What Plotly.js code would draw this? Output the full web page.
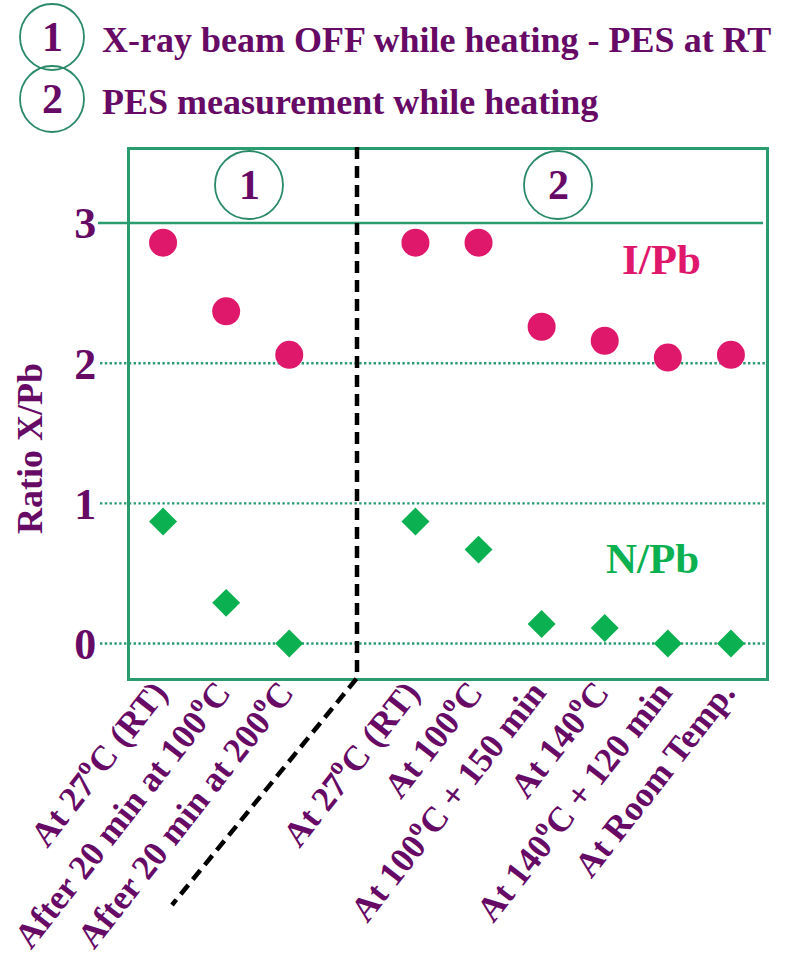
<!DOCTYPE html>
<html>
<head>
<meta charset="utf-8">
<script src="https://cdn.plot.ly/plotly-3.0.1.min.js"></script>
<style>html,body{margin:0;padding:0;background:#fff;}#chart{width:787px;height:963px;}</style>
</head>
<body>
<div id="chart"></div>
<script>
// ---- data ----
const stage1Labels = ['At 27<sup>o</sup>C (RT)', 'After 20 min at 100<sup>o</sup>C', 'After 20 min at 200<sup>o</sup>C'];
const stage2Labels = ['At 27<sup>o</sup>C (RT)', 'At 100<sup>o</sup>C', 'At 100<sup>o</sup>C + 150 min', 'At 140<sup>o</sup>C', 'At 140<sup>o</sup>C + 120 min', 'At Room Temp.'];
const iPbStage1 = [2.86, 2.37, 2.06];
const iPbStage2 = [2.86, 2.86, 2.26, 2.16, 2.04, 2.06];
const nPbStage1 = [0.87, 0.29, 0.0];
const nPbStage2 = [0.87, 0.67, 0.14, 0.11, 0.0, 0.0];
const yTicks = [0, 1, 2, 3];
const legendItems = ['X-ray beam OFF while heating - PES at RT', 'PES measurement while heating'];

// ---- derived positions (stage 2 after a one-slot gap) ----
const xStage1 = stage1Labels.map((_, i) => i);
const xStage2 = stage2Labels.map((_, i) => stage1Labels.length + 1 + i);
const xAll = xStage1.concat(xStage2);
const labelsAll = stage1Labels.concat(stage2Labels);

const PURPLE = '#660a66';
const GREEN = '#2a9c70';
const CIRC = '#2a8a68';
const PINK = '#e0186c';
const NGREEN = '#0bb050';
const FONT = 'Liberation Serif, Times New Roman, serif';

const W = 787, H = 963, ML = 130, MR = 21, MT = 150, MB = 285;
const PW = W - ML - MR, PH = H - MT - MB;
const px = v => (v - ML) / PW;
const py = v => 1 - (v - MT) / PH;
const yRange = [-0.246, 3.521];
const yp = v => (v - yRange[0]) / (yRange[1] - yRange[0]);

const traces = [
  {x: xAll, y: iPbStage1.concat(iPbStage2), type: 'scatter', mode: 'markers', name: 'I/Pb',
   marker: {symbol: 'circle', size: 28, color: PINK}, cliponaxis: false},
  {x: xAll, y: nPbStage1.concat(nPbStage2), type: 'scatter', mode: 'markers', name: 'N/Pb',
   marker: {symbol: 'diamond', size: 21.5, color: NGREEN}, cliponaxis: false}
];

const shapes = [];
// grid lines (extend left of frame)
yTicks.forEach(v => {
  const solid = v === 3;
  shapes.push({type: 'line', xref: 'paper', yref: 'paper', layer: 'below',
    x0: px(solid ? 98 : 100), x1: px(solid ? 763 : 766), y0: yp(v), y1: yp(v),
    line: {color: GREEN, width: solid ? 2.5 : 2.4, dash: solid ? 'solid' : '2.4px,2.4px'}});
});
// divider dashed line
shapes.push({type: 'path', xref: 'paper', yref: 'paper', layer: 'above',
  path: `M${px(357)},${py(147)} L${px(357)},${py(678)} L${px(172)},${py(905)}`,
  line: {color: '#000', width: 4.5, dash: '12px,7px'}});
// circles in plot
[[249, 185], [558, 185]].forEach(c => {
  shapes.push({type: 'circle', xref: 'paper', yref: 'paper',
    x0: px(c[0] - 34), x1: px(c[0] + 34), y0: py(c[1] + 34), y1: py(c[1] - 34),
    line: {color: CIRC, width: 1.8}});
});
// legend circles
[[52, 37], [52, 99]].forEach(c => {
  shapes.push({type: 'circle', xref: 'paper', yref: 'paper',
    x0: px(c[0] - 32), x1: px(c[0] + 32), y0: py(c[1] + 33), y1: py(c[1] - 33),
    line: {color: CIRC, width: 1.8}});
});

const ann = [];
const txt = (text, x, y, size, color, opts) => Object.assign({text, x, y, xref: 'paper', yref: 'paper',
  showarrow: false, font: {family: FONT, size, color, weight: 'bold'}}, opts || {});
ann.push(txt('1', px(249), py(185), 42, PURPLE, {xanchor: 'center', yanchor: 'middle'}));
ann.push(txt('2', px(558), py(185), 42, PURPLE, {xanchor: 'center', yanchor: 'middle'}));
ann.push(txt('1', px(52), py(37), 42, PURPLE, {xanchor: 'center', yanchor: 'middle'}));
ann.push(txt('2', px(52), py(99), 42, PURPLE, {xanchor: 'center', yanchor: 'middle'}));
ann.push(txt(legendItems[0], px(100), py(40), 36, PURPLE, {xanchor: 'left', yanchor: 'middle'}));
ann.push(txt(legendItems[1], px(100), py(102), 36, PURPLE, {xanchor: 'left', yanchor: 'middle'}));
ann.push(txt('Ratio X/Pb', px(30), py(449), 36, PURPLE, {xanchor: 'center', yanchor: 'middle', textangle: -90}));
ann.push({text: 'I/Pb', x: 7.9, y: 2.74, xref: 'x', yref: 'y', showarrow: false,
  font: {family: FONT, size: 43, color: PINK, weight: 'bold'}, xanchor: 'center', yanchor: 'middle'});
ann.push({text: 'N/Pb', x: 7.76, y: 0.61, xref: 'x', yref: 'y', showarrow: false,
  font: {family: FONT, size: 43, color: NGREEN, weight: 'bold'}, xanchor: 'center', yanchor: 'middle'});

const layout = {
  width: W, height: H,
  margin: {l: ML, r: MR, t: MT, b: MB, pad: 0},
  paper_bgcolor: '#fff', plot_bgcolor: '#fff',
  showlegend: false,
  xaxis: {
    range: [-0.524, 9.556], tickvals: xAll, ticktext: labelsAll, tickangle: -52,
    showgrid: false, zeroline: false, showline: true, mirror: true,
    linecolor: GREEN, linewidth: 3, ticks: '', automargin: false,
    ticklabeloverflow: 'allow', ticklabelstandoff: -23, ticklabelshift: -8,
    tickfont: {family: FONT, size: 35, color: PURPLE, weight: 'bold'}
  },
  yaxis: {
    range: yRange, tickvals: yTicks, showgrid: false, zeroline: false,
    showline: true, mirror: true, linecolor: GREEN, linewidth: 3, ticks: '',
    ticklabelstandoff: 22, automargin: false,
    tickfont: {family: FONT, size: 44, color: PURPLE, weight: 'bold'}
  },
  shapes: shapes,
  annotations: ann
};

Plotly.newPlot('chart', traces, layout, {displayModeBar: false, staticPlot: true});
</script>
</body>
</html>
